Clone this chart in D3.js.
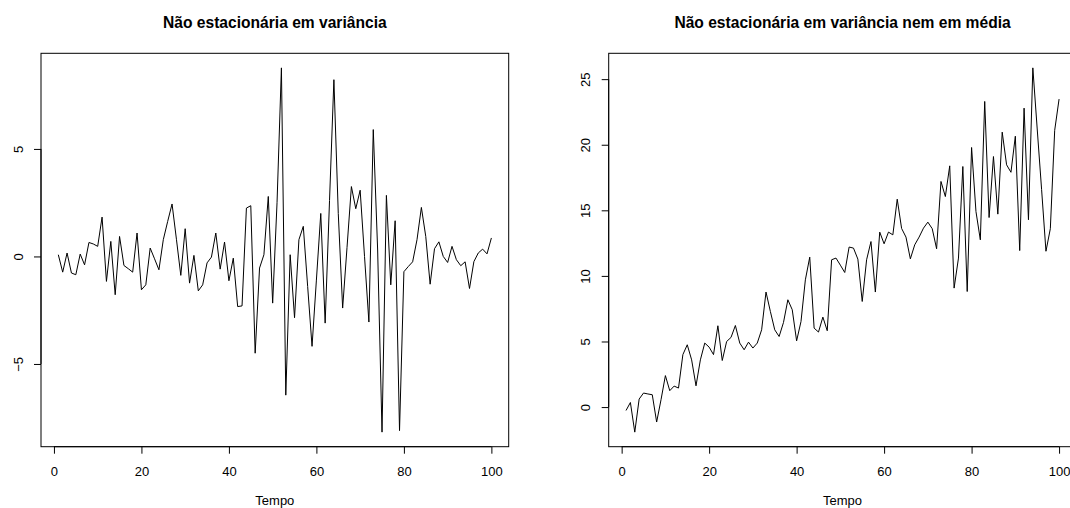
<!DOCTYPE html>
<html>
<head>
<meta charset="utf-8">
<script src="https://cdn.jsdelivr.net/npm/d3@7"></script>
<style>
  html, body { margin: 0; padding: 0; background: #ffffff; }
  svg { display: block; }
  text { font-family: "Liberation Sans", Arial, Helvetica, sans-serif; fill: #000; }
</style>
</head>
<body>
<svg id="chart" width="1070" height="508"></svg>
<script>
// Série com variância não constante (média zero)
const serieVariancia = [
  0.08, -0.73, 0.16, -0.77, -0.85, 0.11, -0.39, 0.65, 0.58, 0.47,
  1.83, -1.16, 0.70, -1.78, 0.93, -0.42, -0.57, -0.73, 1.09, -1.55,
  -1.32, 0.39, -0.11, -0.62, 0.78, 1.63, 2.44, 0.80, -0.88, 1.29,
  -1.24, 0.05, -1.60, -1.32, -0.30, -0.03, 1.09, -0.59, 0.67, -1.13,
  -0.08, -2.33, -2.30, 2.25, 2.36, -4.50, -0.54, 0.08, 2.79, -2.17,
  2.50, 8.77, -6.45, 0.08, -2.85, 0.78, 1.40, -1.40, -4.18, -1.10,
  2.00, -3.10, 2.60, 8.22, 2.00, -2.40, 0.42, 3.25, 2.22, 3.08,
  0.00, -3.05, 5.90, 0.30, -8.17, 2.84, -1.32, 1.66, -8.10, -0.71,
  -0.47, -0.25, 0.78, 2.28, 0.93, -1.29, 0.36, 0.68, 0.00, -0.28,
  0.47, -0.15, -0.43, -0.25, -1.49, -0.24, 0.16, 0.34, 0.12, 0.86
];

// Série com variância e média não constantes (tendência crescente)
const serieVarianciaMedia = [
  -0.26, 0.35, -1.91, 0.61, 1.07, 1.00, 0.94, -1.14, 0.56, 2.40,
  1.25, 1.60, 1.45, 4.00, 4.75, 3.60, 1.62, 3.60, 4.88, 4.57,
  4.00, 6.20, 3.55, 5.00, 5.31, 6.22, 4.88, 4.37, 4.95, 4.50,
  4.88, 5.89, 8.77, 7.29, 5.89, 5.38, 6.45, 8.18, 7.42, 5.05,
  6.52, 9.70, 11.43, 6.02, 5.72, 6.86, 5.82, 11.23, 11.36, 10.82,
  10.26, 12.20, 12.12, 11.28, 8.05, 11.23, 12.62, 8.77, 13.34, 12.45,
  13.34, 13.13, 15.85, 13.62, 12.96, 11.30, 12.37, 12.96, 13.64, 14.10,
  13.60, 12.07, 17.20, 16.05, 18.39, 9.07, 11.36, 18.34, 8.81, 19.79,
  14.91, 12.75, 23.30, 14.45, 19.10, 14.71, 20.96, 18.47, 17.90, 20.65,
  11.93, 22.79, 14.28, 25.86, 21.20, 16.60, 11.88, 13.60, 21.10, 23.48
];

const tempo = d3.range(1, 101);
const ticksTempo = [0, 20, 40, 60, 80, 100];
const ticksVariancia = [-5, 0, 5];
const ticksVarianciaMedia = [0, 5, 10, 15, 20, 25];

const titulos = ["Não estacionária em variância", "Não estacionária em variância nem em média"];
const rotuloX = "Tempo";

const svg = d3.select("#chart");
svg.append("rect").attr("width", 1070).attr("height", 508).attr("fill", "#fff");

// Domínio com 4% de folga em cada lado, como nos gráficos base do R
function padded(ext) {
  const p = (ext[1] - ext[0]) * 0.04;
  return [ext[0] - p, ext[1] + p];
}

function painel(opts) {
  const { left, top, width, height, values, yTicks, title } = opts;
  const g = svg.append("g");

  const x = d3.scaleLinear().domain(padded(d3.extent(tempo))).range([left, left + width]);
  const y = d3.scaleLinear().domain(padded(d3.extent(values))).range([top + height, top]);

  // série
  const line = d3.line().x((d, i) => x(tempo[i])).y(d => y(d));
  g.append("path")
    .datum(values)
    .attr("d", line)
    .attr("fill", "none")
    .attr("stroke", "#000")
    .attr("stroke-width", 1)
    .attr("stroke-linejoin", "round");

  // eixo x
  const ax = g.append("g")
    .attr("transform", `translate(0,${top + height})`)
    .call(d3.axisBottom(x).tickValues(ticksTempo).tickFormat(d3.format("d")).tickSize(7).tickPadding(13.4));
  ax.select(".domain").attr("d", `M${x(ticksTempo[0])},0H${x(ticksTempo[ticksTempo.length - 1])}`);
  ax.selectAll("line").attr("stroke", "#000");
  ax.selectAll("text").attr("font-size", 13).style("font-family", "'Liberation Sans', Arial, sans-serif");

  // eixo y (rótulos paralelos ao eixo)
  const ay = g.append("g")
    .attr("transform", `translate(${left},0)`)
    .call(d3.axisLeft(y).tickValues(yTicks).tickFormat(d3.format("d")).tickSize(7));
  ay.select(".domain").attr("d", `M0,${y(yTicks[0])}V${y(yTicks[yTicks.length - 1])}`);
  ay.selectAll("line").attr("stroke", "#000");
  ay.selectAll("text")
    .attr("x", null).attr("y", null).attr("dy", "0.35em")
    .attr("text-anchor", "middle")
    .attr("transform", "translate(-23,0) rotate(-90)")
    .attr("font-size", 13)
    .style("font-family", "'Liberation Sans', Arial, sans-serif")
    .text(d => d < 0 ? "\u2212" + Math.abs(d) : d);

  // moldura
  g.append("rect")
    .attr("x", left).attr("y", top).attr("width", width).attr("height", height)
    .attr("fill", "none").attr("stroke", "#000").attr("stroke-width", 1);

  // título e rótulo do eixo x
  g.append("text")
    .attr("x", left + width / 2).attr("y", 22.5).attr("dy", "0.35em")
    .attr("text-anchor", "middle").attr("font-weight", "bold").attr("font-size", 15.6)
    .text(title);
  g.append("text")
    .attr("x", left + width / 2).attr("y", 500.3).attr("dy", "0.35em")
    .attr("text-anchor", "middle").attr("font-size", 13)
    .text(rotuloX);
}

painel({ left: 41, top: 53.3, width: 467.7, height: 393.4, values: serieVariancia, yTicks: ticksVariancia, title: titulos[0] });
painel({ left: 608.7, top: 53.3, width: 467.7, height: 393.4, values: serieVarianciaMedia, yTicks: ticksVarianciaMedia, title: titulos[1] });
</script>
</body>
</html>
